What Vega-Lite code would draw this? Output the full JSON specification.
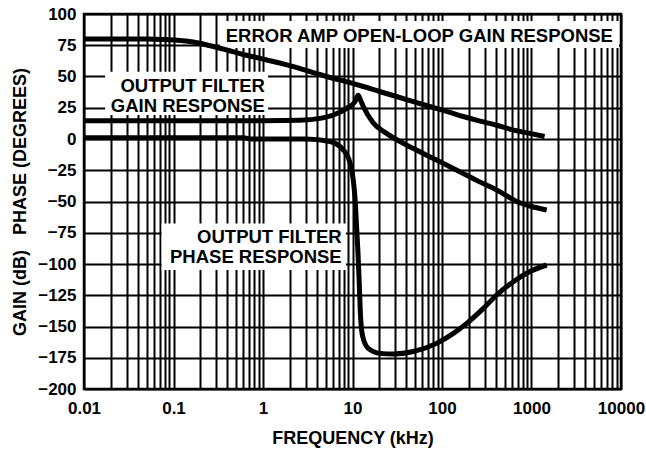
{
  "$schema": "https://vega.github.io/schema/vega-lite/v6.json",
  "width": 537,
  "height": 375,
  "autosize": {"type": "none"},
  "padding": {"left": 84, "top": 14, "right": 25, "bottom": 63},
  "background": "white",
  "config": {
    "view": {"stroke": "black", "strokeWidth": 2.5},
    "font": "Liberation Sans",
    "axis": {
      "grid": true, "gridColor": "black", "gridWidth": 2, "gridOpacity": 1,
      "ticks": false, "domain": false,
      "labelFont": "Liberation Sans", "labelFontWeight": "bold", "labelFontSize": 17, "labelColor": "black",
      "titleFont": "Liberation Sans", "titleFontWeight": "bold", "titleFontSize": 18, "titleColor": "black",
      "labelOverlap": false, "labelFlush": false
    }
  },
  "datasets": {
    "boxes": [
      {"f": 0.33, "f2": 9500, "v": 72.8, "v2": 94.4},
      {"f": 0.0172, "f2": 1.14, "v": 19.2, "v2": 53.8},
      {"f": 0.0736, "f2": 8.45, "v": -67.5, "v2": -104.8}
    ],
    "curves": [
      {"s": "ea", "f": 0.01, "v": 80},
      {"s": "ea", "f": 0.05, "v": 80},
      {"s": "ea", "f": 0.08, "v": 79.6},
      {"s": "ea", "f": 0.12, "v": 78.8},
      {"s": "ea", "f": 0.166, "v": 77.6},
      {"s": "ea", "f": 0.25, "v": 74.8},
      {"s": "ea", "f": 0.393, "v": 71.2},
      {"s": "ea", "f": 0.6, "v": 67.6},
      {"s": "ea", "f": 0.925, "v": 64.5},
      {"s": "ea", "f": 1.5, "v": 61},
      {"s": "ea", "f": 2.18, "v": 57.9},
      {"s": "ea", "f": 3.5, "v": 53.5},
      {"s": "ea", "f": 5.15, "v": 50},
      {"s": "ea", "f": 10, "v": 44.5},
      {"s": "ea", "f": 13.2, "v": 42},
      {"s": "ea", "f": 20, "v": 38},
      {"s": "ea", "f": 31, "v": 34},
      {"s": "ea", "f": 50, "v": 29.5},
      {"s": "ea", "f": 73, "v": 26},
      {"s": "ea", "f": 120, "v": 21.5},
      {"s": "ea", "f": 173, "v": 18},
      {"s": "ea", "f": 260, "v": 14.5},
      {"s": "ea", "f": 408, "v": 11},
      {"s": "ea", "f": 600, "v": 7.5},
      {"s": "ea", "f": 960, "v": 4.5},
      {"s": "ea", "f": 1400, "v": 2},
      {"s": "g", "f": 0.01, "v": 14.7},
      {"s": "g", "f": 1, "v": 14.7},
      {"s": "g", "f": 2.59, "v": 15},
      {"s": "g", "f": 4.33, "v": 16.5},
      {"s": "g", "f": 6.1, "v": 19.2},
      {"s": "g", "f": 8.6, "v": 24.5},
      {"s": "g", "f": 10.7, "v": 30},
      {"s": "g", "f": 11.6, "v": 35},
      {"s": "g", "f": 12.3, "v": 31},
      {"s": "g", "f": 13.2, "v": 26},
      {"s": "g", "f": 17, "v": 13},
      {"s": "g", "f": 24, "v": 4.5},
      {"s": "g", "f": 40, "v": -4.8},
      {"s": "g", "f": 56, "v": -10},
      {"s": "g", "f": 73, "v": -14.2},
      {"s": "g", "f": 100, "v": -19},
      {"s": "g", "f": 173, "v": -27.6},
      {"s": "g", "f": 250, "v": -33.5},
      {"s": "g", "f": 408, "v": -40.8},
      {"s": "g", "f": 740, "v": -51},
      {"s": "g", "f": 1000, "v": -54},
      {"s": "g", "f": 1480, "v": -56.8},
      {"s": "p", "f": 0.01, "v": 1},
      {"s": "p", "f": 0.6, "v": 1},
      {"s": "p", "f": 0.75, "v": 0},
      {"s": "p", "f": 3, "v": 0},
      {"s": "p", "f": 5.6, "v": -2},
      {"s": "p", "f": 7.9, "v": -8.8},
      {"s": "p", "f": 9.4, "v": -19.5},
      {"s": "p", "f": 10.2, "v": -32.8},
      {"s": "p", "f": 10.7, "v": -48.8},
      {"s": "p", "f": 11.1, "v": -70},
      {"s": "p", "f": 11.5, "v": -90},
      {"s": "p", "f": 11.9, "v": -115.5},
      {"s": "p", "f": 12.3, "v": -142},
      {"s": "p", "f": 13, "v": -158},
      {"s": "p", "f": 15, "v": -167.5},
      {"s": "p", "f": 20.3, "v": -171.5},
      {"s": "p", "f": 28.6, "v": -172},
      {"s": "p", "f": 48, "v": -170},
      {"s": "p", "f": 87, "v": -163.5},
      {"s": "p", "f": 134, "v": -155.5},
      {"s": "p", "f": 189, "v": -147.5},
      {"s": "p", "f": 290, "v": -135.5},
      {"s": "p", "f": 408, "v": -124.8},
      {"s": "p", "f": 627, "v": -114.2},
      {"s": "p", "f": 960, "v": -106},
      {"s": "p", "f": 1480, "v": -100.8}
    ],
    "labels": [
      {"f": 8130, "v": 77.9, "t": "ERROR AMP OPEN-LOOP GAIN RESPONSE"},
      {"f": 1.052, "v": 37.9, "t": "OUTPUT FILTER"},
      {"f": 1.052, "v": 21.4, "t": "GAIN RESPONSE"},
      {"f": 7.57, "v": -83.5, "t": "OUTPUT FILTER"},
      {"f": 7.57, "v": -99.5, "t": "PHASE RESPONSE"}
    ]
  },
  "layer": [
    {
      "data": {"name": "boxes"},
      "mark": {"type": "rect", "fill": "white", "strokeWidth": 0},
      "encoding": {
        "x": {
          "field": "f", "type": "quantitative",
          "scale": {"type": "log", "domain": [0.01, 10000], "nice": false},
          "title": "FREQUENCY (kHz)",
          "axis": {
            "values": [0.01,0.02,0.03,0.04,0.05,0.06,0.07,0.08,0.09,0.1,0.2,0.3,0.4,0.5,0.6,0.7,0.8,0.9,1,2,3,4,5,6,7,8,9,10,20,30,40,50,60,70,80,90,100,200,300,400,500,600,700,800,900,1000,2000,3000,4000,5000,6000,7000,8000,9000,10000],
            "tickCount": 100,
            "format": "~g",
            "labelExpr": "indexof([0.01,0.1,1,10,100,1000,10000], datum.value) >= 0 ? datum.label : ''",
            "labelPadding": 11,
            "titleBaseline": "alphabetic",
            "titleY": 54.3
          }
        },
        "x2": {"field": "f2"},
        "y": {
          "field": "v", "type": "quantitative",
          "scale": {"domain": [-200, 100], "nice": false},
          "title": "GAIN (dB) \u00a0\u00a0PHASE (DEGREES)",
          "axis": {
            "values": [-200,-175,-150,-125,-100,-75,-50,-25,0,25,50,75,100],
            "tickCount": 30,
            "labelPadding": 8,
            "titleBaseline": "alphabetic",
            "titleAngle": 270,
            "titleX": -59,
            "titleY": 187.5
          }
        },
        "y2": {"field": "v2"}
      }
    },
    {
      "data": {"name": "curves"},
      "mark": {"type": "line", "color": "black", "strokeWidth": 5, "interpolate": "monotone"},
      "encoding": {
        "x": {"field": "f", "type": "quantitative", "title": "FREQUENCY (kHz)"},
        "y": {"field": "v", "type": "quantitative", "title": "GAIN (dB) \u00a0\u00a0PHASE (DEGREES)"},
        "detail": {"field": "s"}
      }
    },
    {
      "data": {"name": "labels"},
      "mark": {"type": "text", "align": "right", "baseline": "alphabetic", "font": "Liberation Sans", "fontWeight": "bold", "fontSize": 18.5, "color": "black"},
      "encoding": {
        "x": {"field": "f", "type": "quantitative", "title": "FREQUENCY (kHz)"},
        "y": {"field": "v", "type": "quantitative", "title": "GAIN (dB) \u00a0\u00a0PHASE (DEGREES)"},
        "text": {"field": "t"}
      }
    }
  ]
}
